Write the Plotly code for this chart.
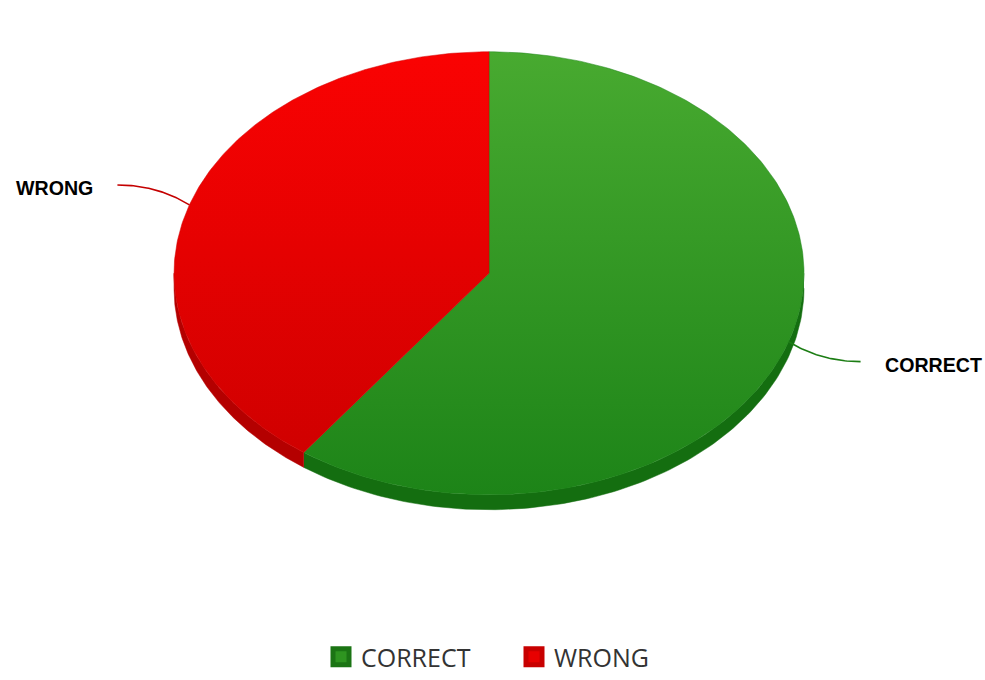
import numpy as np
import plotly.graph_objects as go

# ---- data ----
categories = ["CORRECT", "WRONG"]
values = [60, 40]

# ---- style / geometry ----
W, H = 985, 680
CX, CY = 489, 274.5
RX, RY = 315, 222.5
DEPTH = 15
top_grad = {"CORRECT": ["#48aa30", "#1d8418"], "WRONG": ["#fa0202", "#d00000"]}
side_col = {"CORRECT": "#146e10", "WRONG": "#b40000"}
lead_col = {"CORRECT": "#1c7d14", "WRONG": "#c40000"}
leg_col = {"CORRECT": "#2e9420", "WRONG": "#e80000"}
leg_line = {"CORRECT": "#1b7414", "WRONG": "#c80000"}


def pt(theta, dy=0.0):
    t = np.radians(theta)
    return CX + RX * np.sin(t), CY - RY * np.cos(t) + dy


total = float(sum(values))
angles = []
a = 0.0
for v in values:
    b = a + 360.0 * v / total
    angles.append((a, b))
    a = b

fig = go.Figure()

# side (depth) of the pie
for cat, (a0, a1) in zip(categories, angles):
    s, e = max(a0, 90.0), min(a1, 270.0)
    if e > s:
        th = np.linspace(s, e, 120)
        xt, yt = pt(th)
        xb, yb = pt(th[::-1], DEPTH)
        fig.add_trace(go.Scatter(
            x=np.concatenate([xt, xb]), y=np.concatenate([yt, yb]),
            fill="toself", fillcolor=side_col[cat], mode="lines",
            line=dict(width=0.5, color=side_col[cat]), hoverinfo="skip",
            showlegend=False))

# top faces
for cat, (a0, a1) in zip(categories, angles):
    th = np.linspace(a0, a1, 240)
    xs, ys = pt(th)
    fig.add_trace(go.Scatter(
        x=np.concatenate([[CX], xs, [CX]]), y=np.concatenate([[CY], ys, [CY]]),
        fill="toself", mode="lines", line=dict(width=0.5, color=top_grad[cat][1]),
        fillgradient=dict(type="vertical",
                          colorscale=[[0, top_grad[cat][1]], [1, top_grad[cat][0]]]),
        name=cat, hoverinfo="name", showlegend=False))

# leader lines and labels
for cat, (a0, a1) in zip(categories, angles):
    mid = (a0 + a1) / 2
    sx, sy = pt(mid)
    d = 1 if sx > CX else -1
    ex, ey = sx + d * 72, sy + (sy - CY) * 0.29
    cx_, cy_ = sx + (ex - sx) * 0.45, ey
    t = np.linspace(0, 1, 40)
    bx = (1 - t) ** 2 * sx + 2 * (1 - t) * t * cx_ + t ** 2 * ex
    by = (1 - t) ** 2 * sy + 2 * (1 - t) * t * cy_ + t ** 2 * ey
    fig.add_trace(go.Scatter(x=bx, y=by, mode="lines",
                             line=dict(color=lead_col[cat], width=1.6),
                             hoverinfo="skip", showlegend=False))
    fig.add_annotation(x=ex + d * 22, y=ey + 3.5, text="<b>%s</b>" % cat,
                       showarrow=False, xanchor="left" if d > 0 else "right",
                       yanchor="middle",
                       font=dict(family="Liberation Sans, Arial", size=19.6, color="#000000"))

# legend entries
for cat in categories:
    fig.add_trace(go.Scatter(
        x=[None], y=[None], mode="markers", name=cat,
        marker=dict(symbol="square", size=16, color=leg_col[cat],
                    line=dict(color=leg_line[cat], width=5))))

fig.update_layout(
    width=W, height=H, margin=dict(l=0, r=0, t=0, b=0),
    paper_bgcolor="white", plot_bgcolor="white",
    xaxis=dict(range=[0, W], visible=False, fixedrange=True),
    yaxis=dict(range=[H, 0], visible=False, fixedrange=True),
    showlegend=True,
    legend=dict(orientation="h", x=321 / W, xanchor="left",
                y=(H - 660) / H, yanchor="middle", entrywidth=148,
                font=dict(family="Open Sans", size=25, color="#333333"),
                itemclick=False, itemdoubleclick=False, traceorder="normal"),
)

fig.write_html("out.html", config={"displayModeBar": False},
               post_script="document.body.style.margin='0px';")
